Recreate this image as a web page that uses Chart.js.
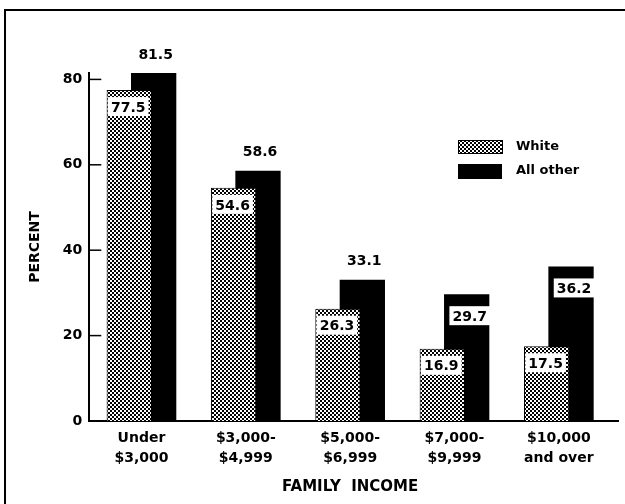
<!DOCTYPE html>
<html>
<head>
<meta charset="utf-8">
<script src="https://cdn.jsdelivr.net/npm/chart.js@4"></script>
<style>
  html, body { margin: 0; padding: 0; background: #fff; }
  #wrap { width: 625px; height: 504px; position: relative; }
</style>
</head>
<body>
<div id="wrap"><canvas id="incomeChart"></canvas></div>
<script>
// data
const categories = [['Under', '$3,000'], ['$3,000-', '$4,999'], ['$5,000-', '$6,999'], ['$7,000-', '$9,999'], ['$10,000', 'and over']];
const whiteValues = [77.5, 54.6, 26.3, 16.9, 17.5];
const otherValues = [81.5, 58.6, 33.1, 29.7, 36.2];
const otherLabelInside = [false, false, false, true, true];
const yTicks = [0, 20, 40, 60, 80];
const seriesNames = ['White', 'All other'];

const FONT = '"DejaVu Sans", sans-serif';

function stipple() {
    var c = document.createElement('canvas');
    c.width = 4; c.height = 4;
    var g = c.getContext('2d');
    g.fillStyle = '#fff';
    g.fillRect(0, 0, 4, 4);
    g.fillStyle = '#000';
    g.fillRect(0, 0, 2, 2);
    g.fillRect(2, 2, 2, 2);
    return g.createPattern(c, 'repeat');
}

var ctx = document.getElementById('incomeChart').getContext('2d');
var dotFill = stipple();

function boxedLabel(g, text, x, y) {
    g.font = 'bold 14px ' + FONT;
    var w = g.measureText(text).width + 6;
    g.fillStyle = '#fff';
    g.fillRect(x - w / 2, y - 10, w, 19);
    g.fillStyle = '#000';
    g.fillText(text, x, y + 1);
}

var extras = {
    id: 'extras',
    beforeDraw: function (chart) {
        var g = chart.ctx;
        g.save();
        g.strokeStyle = '#000';
        g.lineWidth = 2;
        g.beginPath();
        g.moveTo(5, 504);
        g.lineTo(5, 10);
        g.lineTo(625, 10);
        g.stroke();
        g.restore();
    },
    afterDatasetsDraw: function (chart) {
        var g = chart.ctx;
        var y = chart.scales.y;
        var area = chart.chartArea;
        g.save();
        g.textAlign = 'center';
        g.textBaseline = 'middle';
        chart.getDatasetMeta(0).data.forEach(function (bar, i) {
            boxedLabel(g, whiteValues[i].toFixed(1), bar.x - 1, bar.y + 17);
        });
        chart.getDatasetMeta(1).data.forEach(function (bar, i) {
            var t = otherValues[i].toFixed(1);
            if (otherLabelInside[i]) {
                boxedLabel(g, t, bar.x + 3, bar.y + 22);
            } else {
                g.font = 'bold 14px ' + FONT;
                g.fillStyle = '#000';
                g.fillText(t, bar.x + 2, bar.y - 18);
            }
        });
        // inward tick marks on the value axis
        g.strokeStyle = '#000';
        g.lineWidth = 1.5;
        yTicks.forEach(function (v) {
            if (v === 0) return;
            var py = y.getPixelForValue(v);
            g.beginPath();
            g.moveTo(area.left, py);
            g.lineTo(area.left + 12, py);
            g.stroke();
        });
        // baseline runs on past the last group
        g.lineWidth = 2;
        g.beginPath();
        g.moveTo(area.right - 2, area.bottom);
        g.lineTo(619, area.bottom);
        g.stroke();
        // legend
        var lx = 458;
        g.fillStyle = dotFill;
        g.fillRect(lx, 140, 44, 13);
        g.strokeStyle = '#000';
        g.lineWidth = 1;
        g.strokeRect(lx + 0.5, 140.5, 44, 13);
        g.fillStyle = '#000';
        g.fillRect(lx, 164, 44, 15);
        g.textAlign = 'left';
        g.font = 'bold 13px ' + FONT;
        g.fillText(seriesNames[0], 516, 147);
        g.fillText(seriesNames[1], 516, 171);
        g.restore();
    }
};

var chart = new Chart(ctx, {
    type: 'bar',
    data: {
        labels: categories,
        datasets: [{
            label: seriesNames[0],
            data: whiteValues,
            backgroundColor: dotFill,
            borderColor: '#000',
            borderWidth: 1,
            categoryPercentage: 0.4676,
            barPercentage: 1.857
        }, {
            label: seriesNames[1],
            data: otherValues,
            backgroundColor: '#000',
            borderWidth: 0,
            categoryPercentage: 0.4676,
            barPercentage: 1.857
        }]
    },
    options: {
        responsive: true,
        maintainAspectRatio: false,
        animation: false,
        layout: { padding: { left: 27, right: 14, top: 73, bottom: 8 } },
        plugins: {
            legend: { display: false },
            tooltip: { enabled: false }
        },
        scales: {
            x: {
                grid: { display: false, drawTicks: false },
                border: { color: '#000', width: 2 },
                ticks: {
                    color: '#000',
                    padding: 7,
                    maxRotation: 0,
                    font: { family: FONT, size: 14, weight: 'bold', lineHeight: '20px' }
                },
                title: {
                    display: true,
                    text: 'FAMILY  INCOME',
                    color: '#000',
                    padding: { top: 3, bottom: 0 },
                    font: { family: FONT, size: 15, weight: 'bold', lineHeight: 1.2 }
                }
            },
            y: {
                min: 0,
                max: 81.5,
                afterBuildTicks: function (scale) {
                    scale.ticks = yTicks.map(function (v) { return { value: v }; });
                },
                grid: { display: false, drawTicks: false },
                border: { color: '#000', width: 2 },
                ticks: {
                    color: '#000',
                    padding: 7,
                    font: { family: FONT, size: 14, weight: 'bold' }
                },
                title: {
                    display: true,
                    text: 'PERCENT',
                    color: '#000',
                    padding: { top: 0, bottom: 12 },
                    font: { family: FONT, size: 14, weight: 'bold', lineHeight: 1.2 }
                }
            }
        }
    },
    plugins: [extras]
});
</script>
</body>
</html>
